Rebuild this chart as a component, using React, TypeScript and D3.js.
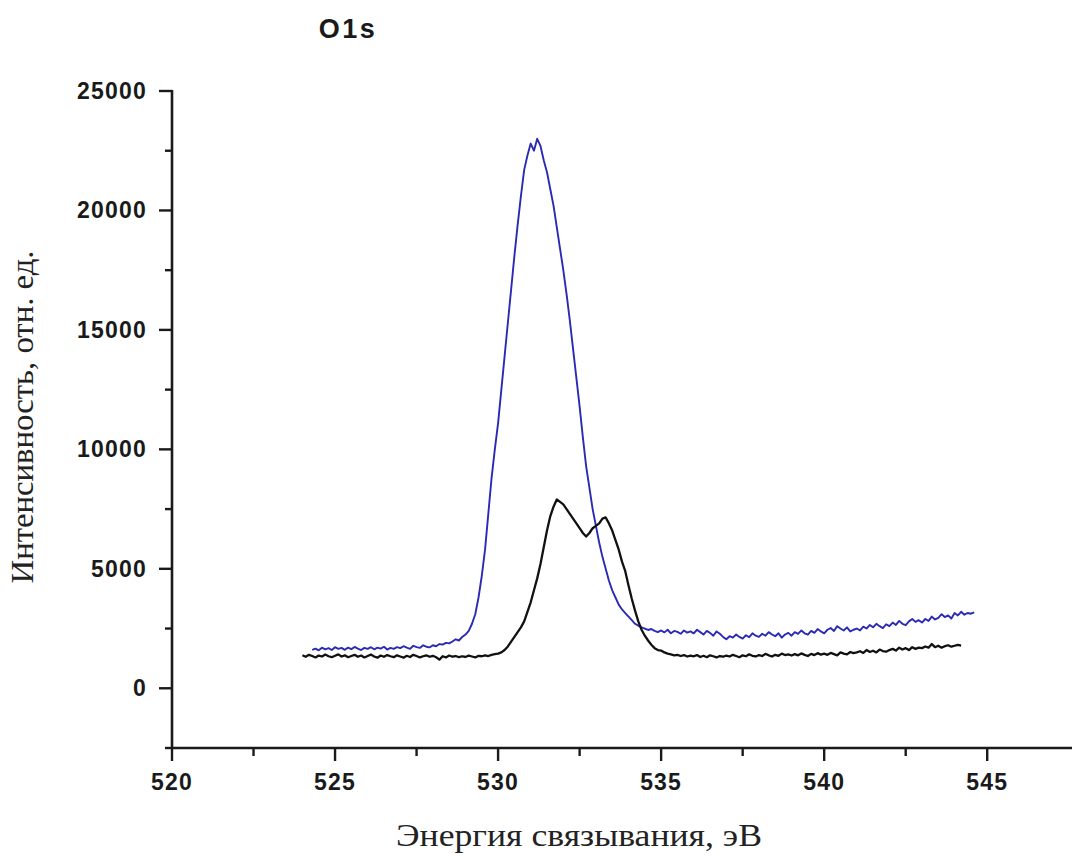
import React from "react";
import * as d3 from "d3";

// ---- data ----
const blueStart = 524.3;
const blueStep = 0.1;
const blueValues = [
  1610, 1660, 1590, 1700, 1630, 1680, 1600,
  1720, 1650, 1690, 1610, 1700, 1640, 1730, 1660, 1600, 1690,
  1650, 1720, 1630, 1700, 1660, 1740, 1620, 1690, 1650, 1720,
  1680, 1760, 1700, 1650, 1780, 1720, 1690, 1800, 1740, 1710,
  1800, 1760, 1850, 1830, 1900, 1880, 1960, 2050, 2000, 2150,
  2250, 2400, 2700, 3100, 3800, 4700, 5800, 7300, 8800, 10000,
  11100, 12500, 13900, 15300, 16700, 18100, 19400, 20600, 21700, 22300,
  22800, 22500, 23000, 22700, 22100, 21600, 20900, 20200, 19300, 18400,
  17500, 16500, 15400, 14200, 13000, 11800, 10500, 9300, 8400, 7500,
  6800, 6100, 5500, 5000, 4500, 4100, 3800, 3500, 3300, 3150,
  3000, 2850, 2700, 2620, 2550, 2500, 2440, 2480, 2400, 2350,
  2420, 2340, 2450, 2300, 2400, 2360, 2280, 2420, 2330, 2380,
  2300, 2450, 2350, 2250, 2400, 2320, 2200, 2380, 2280, 2150,
  2050, 2180, 2120, 2250, 2150, 2080, 2220, 2140, 2300, 2200,
  2150, 2280, 2200, 2350, 2250, 2180, 2300, 2120, 2250, 2320,
  2200, 2350, 2280, 2420, 2300, 2250, 2400, 2320, 2480, 2380,
  2300, 2450, 2520, 2400, 2600, 2500, 2420, 2550, 2380, 2450,
  2500, 2420, 2580, 2500, 2650, 2550, 2700, 2600, 2520, 2680,
  2600, 2750, 2650, 2820, 2700, 2640, 2800, 2900, 2780, 2850,
  2750, 2900, 2820, 3000, 2880, 2950, 3100, 2980, 3050, 2920,
  3150, 3050, 3200, 3080, 3150, 3120, 3180,
];

const blackStart = 524.0;
const blackStep = 0.1;
const blackValues = [
  1380, 1320, 1400, 1350, 1290, 1370, 1330, 1410, 1340, 1300,
  1360, 1420, 1330, 1380, 1300, 1350, 1400, 1320, 1370, 1290,
  1350, 1410, 1330, 1280, 1370, 1320, 1390, 1340, 1300, 1380,
  1330, 1280, 1360, 1310, 1400, 1350, 1290, 1340, 1380, 1320,
  1360, 1300, 1200, 1340, 1290, 1370, 1320, 1350, 1300, 1340,
  1310, 1370, 1330, 1290, 1360, 1340, 1380, 1350, 1400, 1430,
  1450, 1500, 1600, 1750, 1950, 2150, 2350, 2550, 2800, 3200,
  3600, 4100, 4600, 5200, 5900, 6600, 7200, 7600, 7900, 7800,
  7700, 7500, 7300, 7100, 6900, 6700, 6500, 6350, 6500, 6700,
  6800, 6900, 7100, 7150, 6900, 6600, 6200, 5800, 5300, 4900,
  4300, 3750, 3250, 2800, 2450, 2200, 2000, 1820, 1680, 1600,
  1580, 1500, 1450, 1420, 1380, 1400, 1350, 1390, 1330, 1370,
  1340, 1390, 1310, 1360, 1300, 1380, 1340, 1290, 1350, 1320,
  1370, 1330, 1400, 1350, 1300, 1380, 1340, 1420, 1360, 1330,
  1390, 1350, 1440, 1380, 1330, 1400, 1360, 1450, 1390, 1420,
  1370, 1430, 1380, 1460, 1400, 1350, 1440, 1390, 1470, 1410,
  1450, 1400, 1480, 1430, 1380, 1500, 1450, 1420, 1520, 1470,
  1500, 1550, 1480, 1600, 1520, 1570, 1500, 1620, 1560, 1530,
  1600, 1650, 1580, 1700, 1620, 1680, 1600, 1720, 1650, 1700,
  1680, 1750, 1700, 1850, 1720, 1780, 1700, 1760, 1800, 1740,
  1780, 1820, 1790,
];

const xMajorTicks = [520, 525, 530, 535, 540, 545];
const xMinorTicks = [522.5, 527.5, 532.5, 537.5, 542.5];
const yMajorTicks = [0, 5000, 10000, 15000, 20000, 25000];
const yMinorTicks = [-2500, 2500, 7500, 12500, 17500, 22500];

const title = "O1s";
const xLabel = "Энергия связывания, эВ";
const yLabel = "Интенсивность, отн. ед.";

// ---- layout ----
const W = 1073;
const H = 856;
const x0 = 172;
const x1 = 1072;
const yTop = 91;
const yBottom = 748;

export default function App() {
  const x = d3.scaleLinear().domain([520, 547.6]).range([x0, x1]);
  const y = d3.scaleLinear().domain([-2500, 25000]).range([yBottom, yTop]);

  const blue = blueValues.map((v, i) => [blueStart + i * blueStep, v] as [number, number]);
  const black = blackValues.map((v, i) => [blackStart + i * blackStep, v] as [number, number]);

  const line = d3
    .line<[number, number]>()
    .x((d) => x(d[0]))
    .y((d) => y(d[1]));

  const tickFont = {
    fontFamily: "'Liberation Sans', Arial, sans-serif",
    fontWeight: 700,
    fontSize: 23,
    letterSpacing: 1.2,
    fill: "#1a1a1a",
  } as const;

  const serif = {
    fontFamily: "'Liberation Serif', 'Times New Roman', serif",
    fontSize: 32,
    fill: "#222",
  } as const;

  return (
    <svg
      width={W}
      height={H}
      style={{ position: "absolute", left: 0, top: 0, background: "#fff" }}
    >
      <rect x={0} y={0} width={W} height={H} fill="#fff" />
      {/* title */}
      <text
        x={348}
        y={38}
        textAnchor="middle"
        style={{ ...tickFont, fontSize: 27, letterSpacing: 2.5 }}
      >
        {title}
      </text>

      {/* curves */}
      <path d={line(blue) || ""} fill="none" stroke="#2a2ab4" strokeWidth={1.9} strokeLinejoin="round" />
      <path d={line(black) || ""} fill="none" stroke="#111" strokeWidth={2.3} strokeLinejoin="round" />

      {/* y axis */}
      <line x1={x0} x2={x0} y1={yTop - 1} y2={yBottom + 1} stroke="#1a1a1a" strokeWidth={2.6} />
      {yMajorTicks.map((t) => (
        <g key={"ym" + t}>
          <line x1={x0 - 13} x2={x0} y1={y(t)} y2={y(t)} stroke="#1a1a1a" strokeWidth={2.4} />
          <text x={147} y={y(t) + 8} textAnchor="end" style={tickFont}>
            {t}
          </text>
        </g>
      ))}
      {yMinorTicks.map((t) => (
        <line key={"yn" + t} x1={x0 - 7} x2={x0} y1={y(t)} y2={y(t)} stroke="#1a1a1a" strokeWidth={2.4} />
      ))}

      {/* x axis */}
      <line x1={x0 - 1} x2={x1} y1={yBottom} y2={yBottom} stroke="#1a1a1a" strokeWidth={2.6} />
      {xMajorTicks.map((t) => (
        <g key={"xm" + t}>
          <line x1={x(t)} x2={x(t)} y1={yBottom} y2={yBottom + 13} stroke="#1a1a1a" strokeWidth={2.4} />
          <text x={x(t)} y={790} textAnchor="middle" style={tickFont}>
            {t}
          </text>
        </g>
      ))}
      {xMinorTicks.map((t) => (
        <line key={"xn" + t} x1={x(t)} x2={x(t)} y1={yBottom} y2={yBottom + 8} stroke="#1a1a1a" strokeWidth={2.4} />
      ))}

      {/* axis labels */}
      <text
        x={579}
        y={846}
        textAnchor="middle"
        textLength={366}
        lengthAdjust="spacingAndGlyphs"
        style={serif}
      >
        {xLabel}
      </text>
      <text
        transform={`translate(33, 417) rotate(-90)`}
        textAnchor="middle"
        textLength={333}
        lengthAdjust="spacingAndGlyphs"
        style={serif}
      >
        {yLabel}
      </text>
    </svg>
  );
}
